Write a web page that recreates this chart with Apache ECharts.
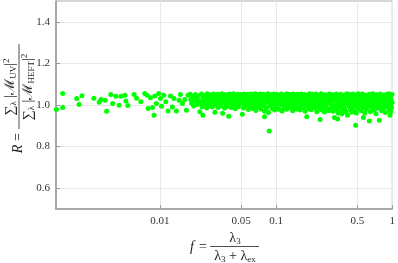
<!DOCTYPE html>
<html>
<head>
<meta charset="utf-8">
<script src="https://cdn.jsdelivr.net/npm/echarts@6/dist/echarts.min.js"></script>
<style>html,body{margin:0;padding:0;background:#fff}#c{width:398px;height:263px}</style>
</head>
<body>
<div id="c"></div>
<script>
// tick labels
var xTicks = [0.01, 0.05, 0.1, 0.5, 1];
var yTicks = [0.6, 0.8, 1.0, 1.2, 1.4];
// sparse points at small f
var sparsePoints = [
[0.00129,0.978],[0.00146,1.055],[0.00146,0.988],[0.00193,1.031],[0.00214,1.045],[0.00202,1.002],[0.00271,1.032],[0.00301,1.013],[0.00312,1.027],[0.00339,1.023],[0.00349,0.970],[0.00379,1.051],[0.00393,1.007],[0.00419,1.042],[0.00447,0.999],[0.00463,1.042],[0.00501,1.047],[0.00511,1.019],[0.00531,0.997],[0.00601,1.051],[0.00631,1.032],[0.00687,1.016],[0.00743,1.055],[0.00778,1.047],[0.00794,0.983],[0.00832,1.035],[0.00865,0.988],[0.00893,0.951],[0.00906,1.043],[0.00937,1.007],[0.00980,1.055],[0.01014,1.031],[0.01035,0.994],[0.01082,1.047],[0.01127,1.016],[0.01179,0.971],[0.01235,1.043],[0.01285,0.990],[0.01327,1.031],[0.01391,0.971],[0.01465,1.023],[0.01506,1.051],[0.01567,1.007],[0.01640,1.027],[0.01695,0.975],[0.01750,1.047]
];
// dense points
var densePoints = [
[0.0183,1.052],[0.0185,1.026],[0.0188,1.008],[0.0192,1.041],[0.0196,0.995],[0.0199,1.018],[0.0203,1.050],[0.0207,1.032],[0.0210,1.003],[0.0214,1.044],[0.0218,1.021],[0.0221,0.968],[0.0224,1.010],[0.0228,1.053],[0.0231,0.992],[0.0235,0.951],
[0.0235,1.036],[0.0238,1.016],[0.0242,1.047],[0.0246,1.001],[0.0249,1.027],[0.0253,0.985],[0.0256,1.054],[0.0259,1.012],[0.0262,1.038],[0.0266,0.997],[0.0269,1.049],[0.0272,1.022],
[0.0276,1.006],[0.0279,1.041],[0.0283,0.990],[0.0287,1.030],[0.0291,1.053],[0.0294,1.015],[0.0298,0.965],[0.0302,1.045],[0.0306,1.000],[0.0310,1.024],[0.0314,1.052],[0.0318,0.988],[0.0322,1.035],[0.0326,1.010],[0.0330,1.047],
[0.0334,0.998],[0.0338,1.027],[0.0342,1.054],[0.0347,0.960],[0.0351,1.015],[0.0355,1.040],[0.0360,0.985],[0.0364,1.051],[0.0369,1.005],[0.0373,1.030],[0.0378,0.993],[0.0382,1.045],[0.0387,1.019],[0.0392,0.946],[0.0396,1.053],[0.0401,1.008],
[0.0406,1.035],[0.0411,0.988],[0.0416,1.048],[0.0421,1.021],[0.0426,0.999],[0.0431,1.054],[0.0437,1.012],[0.0442,1.038],[0.0447,0.982],[0.0453,1.046],[0.0458,1.026],[0.0464,1.003],[0.0470,1.052],[0.0476,0.991],[0.0482,1.032],[0.0488,1.015],
[0.0494,1.050],[0.0513,0.955],[0.0506,1.040],[0.0512,1.007],[0.0518,1.027],[0.0525,0.985],[0.0531,1.053],[0.0538,1.018],[0.0544,0.996],[0.0551,1.044],[0.0558,1.031],[0.0565,1.004],[0.0572,1.052],[0.0579,0.978],[0.0586,1.021],[0.0593,1.041],
[0.0600,0.992],[0.0608,1.053],[0.0615,1.011],[0.0623,1.034],[0.0631,0.983],[0.0639,1.047],[0.0646,1.024],[0.0655,1.000],[0.0663,1.054],[0.0671,0.973],[0.0679,1.038],[0.0688,1.015],[0.0696,0.990],[0.0705,1.049],[0.0714,1.028],[0.0723,1.006],
[0.0732,1.053],[0.0741,0.981],[0.0750,1.041],[0.0760,1.019],[0.0769,0.996],[0.0779,1.052],[0.0788,1.032],[0.0797,0.943],[0.0798,0.970],[0.0808,1.008],[0.0818,1.045],[0.0828,0.987],[0.0838,1.024],[0.0849,1.054],[0.0860,0.964],[0.0870,1.014],[0.0874,0.875],[0.0881,1.038],
[0.0892,0.998],[0.0903,1.050],[0.0914,1.027],[0.0926,0.983],[0.0937,1.043],[0.0949,1.005],[0.0961,1.053],[0.0973,0.976],[0.0985,1.020],[0.0997,1.036],[0.1010,0.992],[0.1022,1.051],[0.1035,1.012],[0.1048,1.030],[0.1061,0.980],[0.1074,1.046],
[0.1087,1.002],[0.1100,1.025],[0.1114,1.053],[0.1128,0.971],[0.1142,1.038],[0.1156,1.014],[0.1170,0.990],[0.1185,1.048],[0.1200,1.030],[0.1215,1.006],[0.1230,0.979],[0.1245,1.054],[0.1261,1.019],[0.1276,1.040],[0.1292,0.996],[0.1308,1.027],[0.1122,1.006],[0.1190,1.018],[0.1262,0.985],
[0.1324,1.050],[0.1341,0.985],[0.1357,1.010],[0.1374,1.036],[0.1391,0.972],[0.1408,1.053],[0.1426,1.022],[0.1443,0.998],[0.1461,1.044],[0.1479,1.008],[0.1498,0.981],[0.1516,1.031],[0.1535,1.052],[0.1554,0.993],[0.1573,1.016],[0.1592,1.041],[0.1350,1.026],[0.1420,0.987],[0.1510,1.045],
[0.1612,0.976],[0.1632,1.028],[0.1652,1.053],[0.1672,1.004],[0.1693,1.039],[0.1714,0.988],[0.1735,1.018],[0.1756,1.050],[0.1778,0.970],[0.1800,1.032],[0.1822,1.008],[0.1845,0.995],[0.1868,1.047],[0.1891,1.022],[0.1914,0.982],[0.1938,1.054],[0.1660,0.992],[0.1760,1.012],[0.1850,1.037],[0.1920,1.001],[0.1838,0.943],
[0.1962,1.013],[0.1986,1.040],[0.2011,0.977],[0.2036,1.026],[0.2061,1.052],[0.2086,0.996],[0.2112,1.007],[0.2138,1.044],[0.2165,0.985],[0.2192,1.020],[0.2219,1.053],[0.2246,0.968],[0.2274,1.033],[0.2302,1.002],[0.2331,0.990],[0.2360,1.047],[0.2000,1.031],[0.2100,1.018],[0.2200,0.999],[0.2290,1.015],[0.2395,0.930],
[0.2389,1.021],[0.2419,0.979],[0.2449,1.054],[0.2479,1.011],[0.2510,1.037],[0.2541,0.993],[0.2573,1.028],[0.2605,0.966],[0.2637,1.049],[0.2670,1.004],[0.2703,1.016],[0.2737,0.984],[0.2771,1.042],[0.2805,1.024],[0.2840,0.972],[0.2875,1.053],[0.2440,1.000],[0.2560,1.045],[0.2680,0.990],[0.2790,1.008],[0.2520,0.975],
[0.2911,1.010],[0.2947,1.035],[0.2984,0.988],[0.3021,1.050],[0.3058,1.019],[0.3096,0.970],[0.3135,1.041],[0.3174,0.998],[0.3213,1.027],[0.3253,0.982],[0.3293,1.053],[0.3334,1.006],[0.3376,1.031],[0.3418,0.962],[0.3460,1.045],[0.3503,1.015],[0.2960,1.022],[0.3080,0.994],[0.3200,1.047],[0.3320,0.978],[0.3440,1.001],[0.3180,0.940],[0.3390,0.933],
[0.3547,0.991],[0.3591,1.052],[0.3635,1.024],[0.3680,0.975],[0.3726,1.037],[0.3772,1.002],[0.3819,1.014],[0.3866,0.985],[0.3914,1.048],[0.3963,1.029],[0.4012,0.967],[0.4062,1.054],[0.4112,1.009],[0.4163,1.040],[0.4215,0.996],[0.4267,1.020],[0.3610,1.011],[0.3750,1.044],[0.3900,0.980],[0.4050,1.032],[0.4190,1.051],[0.3700,0.958],[0.4130,0.951],
[0.4320,1.050],[0.4373,0.979],[0.4427,1.016],[0.4482,1.033],[0.4538,0.989],[0.4594,1.053],[0.4651,1.005],[0.4709,0.970],[0.4767,1.042],[0.4826,1.022],[0.4840,0.903],[0.4886,0.994],[0.4946,1.049],[0.5008,1.011],[0.5070,0.983],[0.5132,1.036],[0.5196,1.026],[0.4400,1.001],[0.4550,1.041],[0.4700,1.019],[0.4900,0.962],[0.5100,1.054],[0.4480,0.965],
[0.5260,0.998],[0.5325,1.044],[0.5391,0.972],[0.5458,1.018],[0.5526,1.053],[0.5594,0.988],[0.5664,1.030],[0.5734,1.007],[0.5805,0.961],[0.5877,1.047],[0.5950,1.012],[0.6024,0.980],[0.6098,1.038],[0.6174,1.023],[0.6250,0.993],[0.6328,1.052],[0.5360,1.027],[0.5500,1.001],[0.5650,1.050],[0.5800,0.985],[0.5950,1.033],[0.6120,0.999],[0.6250,1.015],[0.5640,0.940],[0.6350,0.923],
[0.6406,1.010],[0.6486,0.968],[0.6566,1.041],[0.6648,1.025],[0.6730,0.990],[0.6814,1.054],[0.6898,1.003],[0.6984,0.976],[0.7071,1.035],[0.7158,1.018],[0.7247,0.958],[0.7337,1.049],[0.7428,1.008],[0.7520,0.984],[0.7614,1.029],[0.7708,1.044],[0.6500,1.051],[0.6650,0.997],[0.6800,1.031],[0.6950,1.046],[0.7100,0.987],[0.7300,1.022],[0.7500,0.996],[0.7650,1.013],[0.7730,0.927],
[0.7804,0.993],[0.7901,1.053],[0.7999,1.017],[0.8098,0.972],[0.8199,1.038],[0.8300,1.004],[0.8403,0.985],[0.8507,1.047],[0.8613,1.026],[0.8720,0.964],[0.8828,1.011],[0.8937,1.052],[0.9048,0.991],[0.9160,1.033],[0.9274,1.019],[0.9389,0.978],[0.9505,1.044],[0.9623,1.002],[0.9743,1.029],[0.9864,0.988],[0.9950,1.050],[0.9990,1.012],[0.8000,1.042],[0.8250,1.025],[0.8550,0.999],[0.8800,1.037],[0.9100,1.006],[0.9400,1.054],[0.9700,0.967],[0.8650,1.014],[0.9550,0.996],[0.9560,0.951]
];

var SERIF = '"Liberation Serif", "DejaVu Serif", serif';
var chart = echarts.init(document.getElementById('c'), null, {renderer: 'canvas'});
var richStyles = {
  n: {fontSize: 14, lineHeight: 16, fontFamily: SERIF, color: '#222', verticalAlign: 'middle'},
  i: {fontSize: 14, lineHeight: 16, fontFamily: SERIF, fontStyle: 'italic', color: '#222', verticalAlign: 'middle'},
  m: {fontSize: 14, lineHeight: 16, fontFamily: '"DejaVu Serif", serif', color: '#222', verticalAlign: 'middle'},
  s: {fontSize: 9, lineHeight: 9, fontFamily: SERIF, color: '#222', verticalAlign: 'bottom'},
  p: {fontSize: 9, lineHeight: 9, fontFamily: SERIF, color: '#222', verticalAlign: 'top'}
};
function mathText(x, y, txt) {
  return {type: 'text', x: x, y: y, style: {text: txt, fontSize: 14, fontFamily: SERIF, lineHeight: 16, fill: '#222', align: 'center', verticalAlign: 'middle', rich: richStyles}};
}
var option = {
  animation: false,
  backgroundColor: '#fff',
  grid: {left: 56, right: 5, top: 1, bottom: 54, show: true, borderColor: '#b0b0b0', borderWidth: 1, containLabel: false},
  xAxis: {
    type: 'log', logBase: 10, min: 0.00128, max: 1,
    axisLine: {show: true, lineStyle: {color: '#999', width: 1.5}},
    axisTick: {show: true, inside: true, length: 4, customValues: xTicks, lineStyle: {color: '#999'}},
    axisLabel: {customValues: xTicks, margin: 7, fontSize: 11, fontFamily: SERIF, color: '#333',
      formatter: function (v) { return String(+v.toPrecision(3)); }},
    splitLine: {show: true, lineStyle: {color: '#e8e8e8', width: 1}},
    minorTick: {show: false}, minorSplitLine: {show: false}
  },
  yAxis: {
    type: 'value', min: 0.5, max: 1.5,
    axisLine: {show: true, lineStyle: {color: '#999', width: 1.5}},
    axisTick: {show: true, inside: true, length: 4, customValues: yTicks, lineStyle: {color: '#999'}},
    axisLabel: {customValues: yTicks, margin: 6, fontSize: 11, fontFamily: SERIF, color: '#333',
      formatter: function (v) { return (+v).toFixed(1); }},
    splitLine: {show: true, lineStyle: {color: '#e8e8e8', width: 1}}
  },
  series: [{
    type: 'scatter',
    data: sparsePoints.concat(densePoints),
    symbol: 'circle', symbolSize: 5,
    itemStyle: {color: '#00ff00', opacity: 1},
    emphasis: {disabled: true},
    clip: true
  }],
  graphic: [
    // x-axis title
    mathText(192, 247, '{i|f}'),
    mathText(203, 247, '{n|=}'),
    {type: 'line', shape: {x1: 210, y1: 246.5, x2: 259, y2: 246.5}, style: {stroke: '#222', lineWidth: 0.8}},
    mathText(235, 238, '{n|λ}{s|3}'),
    mathText(235, 256, '{n|λ}{s|3}{n| + λ}{s|ex}'),
    // y-axis title (rotated)
    {type: 'group', x: 19, y: 100, rotation: Math.PI / 2, children: [
      mathText(-49, -1, '{i|R}'),
      mathText(-37, -1, '{n|=}'),
      {type: 'line', shape: {x1: -29, y1: 0, x2: 56, y2: 0}, style: {stroke: '#222', lineWidth: 0.8}},
      mathText(13, -9, '{n|∑}{s|λ}{n| |}{m|ℳ}{s|UV}{n||}{p|2}'),
      mathText(13, 9, '{n|∑}{s|λ}{n| |}{m|ℳ}{s|HEFT}{n||}{p|2}')
    ]}
  ]
};
chart.setOption(option);
</script>
</body>
</html>
